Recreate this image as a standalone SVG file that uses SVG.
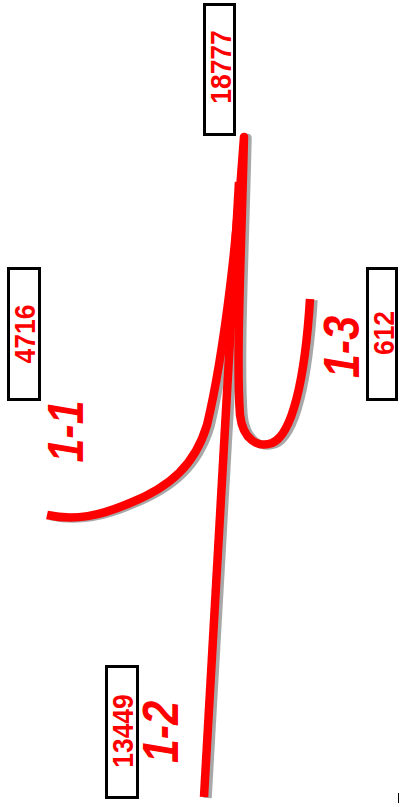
<svg xmlns="http://www.w3.org/2000/svg" width="400" height="807" viewBox="0 0 400 807">
<style>
.box{fill:#fff;stroke:#000;stroke-width:3}
.num{font-family:"Liberation Sans",Arial,sans-serif;font-weight:bold;font-size:26.5px;fill:#f00;text-anchor:middle}
.lbl{font-family:"Liberation Sans",Arial,sans-serif;font-weight:bold;font-style:italic;font-size:43px;fill:#f00;text-anchor:middle}
.red{fill:none;stroke:#f00;stroke-width:8.5;stroke-linejoin:round}
.sh{fill:none;stroke:url(#chk);stroke-width:8.5;stroke-linejoin:round}
</style>
<defs>
<pattern id="chk" width="2" height="2" patternUnits="userSpaceOnUse">
<rect width="2" height="2" fill="#d0d0d0"/>
<rect width="1" height="1" fill="#808080"/>
<rect x="1" y="1" width="1" height="1" fill="#808080"/>
</pattern>
<path id="p11_13" d="M 47,515 C 75,521 100,516 130,503 C 170,487 195,465 207,425 C 225,350 238,230 244,137 C 241,260 236,360 240,415 C 243,440 258,448 272,443 C 292,435 305,380 310,299"/>
<path id="p12" d="M 239,182 L 204,797"/>
</defs>
<g id="connectors">
<g transform="translate(3.5,1)">
<use href="#p11_13" class="sh"/>
<use href="#p12" class="sh"/>
</g>
<use href="#p11_13" class="red"/>
<use href="#p12" class="red"/>
</g>
<g id="n18777">
<rect class="box" x="204.5" y="4.5" width="30" height="130"/>
<text class="num" transform="translate(231,67) rotate(-90) scale(1,1.12)">18777</text>
</g>
<g id="n4716">
<rect class="box" x="8.5" y="268.5" width="31" height="131"/>
<text class="num" transform="translate(35,334) rotate(-90) scale(1,1.12)">4716</text>
</g>
<g id="n612">
<rect class="box" x="367.5" y="268.5" width="29" height="131"/>
<text class="num" transform="translate(394,333) rotate(-90) scale(1,1.12)">612</text>
</g>
<g id="n13449">
<rect class="box" x="106.5" y="666.5" width="31" height="131"/>
<text class="num" transform="translate(133,731) rotate(-90) scale(1,1.12)">13449</text>
</g>
<g id="labels">
<text class="lbl" transform="translate(83,431.5) rotate(-90) scale(1,1.18)">1-1</text>
<text class="lbl" transform="translate(178,732) rotate(-90) scale(1,1.18)">1-2</text>
<text class="lbl" transform="translate(359,347) rotate(-90) scale(1,1.18)">1-3</text>
</g>
<line x1="398.5" y1="793" x2="398.5" y2="803" stroke="#000" stroke-width="1"/>
</svg>
